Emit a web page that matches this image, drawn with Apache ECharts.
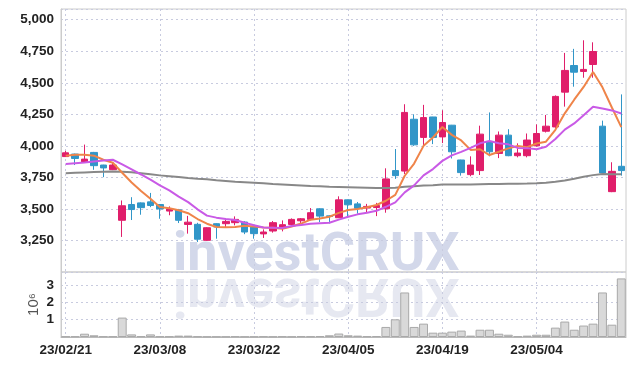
<!DOCTYPE html>
<html><head><meta charset="utf-8">
<script src="https://cdn.jsdelivr.net/npm/echarts@6/dist/echarts.min.js"></script>
<style>html,body{margin:0;padding:0;background:#fff}#c{width:634px;height:366px}</style>
</head><body><div id="c"></div><script>
const dates = ['23/02/21','23/02/22','23/02/23','23/02/24','23/02/27','23/02/28','23/03/02','23/03/03','23/03/06','23/03/07',
'23/03/08','23/03/09','23/03/10','23/03/13','23/03/14','23/03/15','23/03/16','23/03/17','23/03/20','23/03/21',
'23/03/22','23/03/23','23/03/24','23/03/27','23/03/28','23/03/29','23/03/30','23/03/31','23/04/03','23/04/04',
'23/04/05','23/04/06','23/04/07','23/04/10','23/04/11','23/04/12','23/04/13','23/04/14','23/04/17','23/04/18',
'23/04/19','23/04/20','23/04/21','23/04/24','23/04/25','23/04/26','23/04/27','23/04/28','23/05/02','23/05/03',
'23/05/04','23/05/08','23/05/09','23/05/10','23/05/11','23/05/12','23/05/15','23/05/16','23/05/17','23/05/18'];
// [open, close, low, high]
const candles = [
[3915,3945,3912,3960],[3935,3900,3848,3938],[3873,3895,3870,4010],[3948,3843,3810,3952],[3848,3825,3752,3850],
[3811,3848,3808,3865],[3410,3525,3278,3567],[3535,3495,3412,3593],[3548,3510,3454,3552],[3556,3527,3514,3627],
[3535,3500,3422,3538],[3483,3499,3450,3520],[3493,3410,3388,3500],[3377,3395,3304,3445],[3378,3260,3238,3390],
[3251,3351,3248,3355],[3383,3357,3264,3386],[3383,3401,3357,3428],[3391,3417,3370,3441],[3396,3317,3300,3402],
[3356,3304,3264,3360],[3302,3317,3270,3338],[3325,3391,3312,3404],[3357,3375,3322,3409],[3377,3417,3370,3425],
[3406,3422,3383,3428],[3417,3470,3409,3507],[3501,3443,3396,3505],[3445,3440,3385,3450],[3430,3572,3428,3600],
[3572,3533,3428,3575],[3540,3505,3462,3555],[3507,3520,3475,3540],[3511,3527,3443,3548],[3501,3738,3470,3822],
[3804,3764,3738,3975],[3800,4265,3777,4330],[4211,4008,4000,4250],[4067,4224,4005,4325],[4229,4067,4014,4230],
[4071,4185,4022,4282],[4164,3953,3900,4166],[3888,3788,3764,3890],[3772,3848,3759,3917],[3804,4093,3769,4160],
[4035,3953,3917,4265],[3940,4085,3903,4114],[4085,3922,3918,4132],[3922,3943,3909,4020],[3922,4046,3909,4098],
[4000,4098,3995,4170],[4116,4156,4106,4245],[4150,4392,4140,4400],[4426,4598,4311,4737],[4637,4584,4469,4769],
[4590,4606,4540,4837],[4645,4748,4540,4821],[4156,3785,3780,4200],[3637,3798,3633,3870],[3838,3804,3764,4408]];
const ma5 = [3922,3930,3930,3922,3890,3866,3787,3710,3642,3581,3515,3506,3490,3466,3420,3383,3357,3354,3357,3366,
3360,3352,3350,3343,3361,3384,3415,3425,3438,3469,3492,3499,3514,3531,3565,3611,3763,3860,4000,4066,
4150,4087,4043,3968,3973,3927,3953,3980,3999,3990,4019,4033,4127,4258,4366,4467,4586,4464,4304,4148];
const ma10 = [3856,3862,3868,3876,3883,3890,3853,3813,3773,3732,3687,3647,3598,3554,3497,3447,3431,3421,3412,3391,
3371,3353,3351,3349,3365,3372,3383,3387,3390,3415,3438,3457,3470,3485,3517,3552,3631,3687,3766,3816,
3881,3925,3952,3984,4020,4039,4020,4012,3984,3982,3973,3993,4054,4129,4178,4243,4310,4296,4281,4257];
const maLong = [3783,3786,3789,3792,3795,3797,3795,3790,3782,3774,3766,3760,3753,3746,3740,3735,3728,3722,3716,3712,
3708,3703,3698,3694,3690,3686,3682,3679,3676,3674,3672,3670,3668,3666,3665,3668,3675,3680,3685,3688,
3693,3694,3693,3694,3696,3697,3698,3699,3700,3701,3703,3708,3716,3726,3740,3755,3768,3776,3775,3774];
const volumes = [30000,30000,190000,100000,30000,30000,1120000,150000,40000,150000,
30000,30000,80000,80000,30000,20000,20000,20000,30000,20000,
20000,30000,20000,30000,20000,40000,30000,50000,100000,200000,
100000,80000,40000,50000,580000,1020000,2570000,580000,770000,250000,
250000,310000,370000,80000,420000,420000,190000,130000,40000,80000,
130000,130000,540000,890000,420000,660000,770000,2570000,710000,3380000];
const priceMin = 3000, priceMax = 5085, priceStep = 250;
const volMax = 3750000, volStep = 1000000;
const volUnitLabel = '10\u2076';
const watermark = 'investCRUX';

const labelFont = {fontFamily:"'Liberation Sans',Arial,sans-serif", fontWeight:'bold', fontSize:13.5, color:'#222'};
const gridLine = {show:true, lineStyle:{color:'#c8cbdf', width:1, type:[2,3]}};
const chart = echarts.init(document.getElementById('c'), null, {renderer:'canvas'});
chart.setOption({
  animation:false,
  backgroundColor:'#fff',
  graphic:[
    {type:'text', x:173, y:256, z:0, silent:true,
     style:{text:watermark, font:'bold 54px Roboto', fill:'#d3d8ea', verticalAlign:'middle'}},
    {type:'text', x:173, y:292, scaleY:-1, z:0, silent:true,
     style:{text:watermark, font:'bold 54px Roboto', fill:'#e6e8f1', verticalAlign:'middle'}}
  ],
  grid:[
    {left:61, right:8, top:9, height:263, show:true, borderColor:'#ccc', borderWidth:1},
    {left:61, right:8, top:272, height:65, show:true, borderColor:'#ccc', borderWidth:1}
  ],
  xAxis:[
    {type:'category', gridIndex:0, data:dates, boundaryGap:true,
     axisLine:{show:false}, axisTick:{show:false}, axisLabel:{show:false},
     splitLine:Object.assign({interval:9, alignWithLabel:true}, gridLine)},
    {type:'category', gridIndex:1, data:dates, boundaryGap:true,
     axisLine:{show:true, lineStyle:{color:'#bbb'}}, axisTick:{show:false},
     axisLabel:Object.assign({interval:9, margin:6}, labelFont),
     splitLine:Object.assign({interval:9, alignWithLabel:true}, gridLine)}
  ],
  yAxis:[
    {type:'value', gridIndex:0, min:priceMin, max:priceMax, interval:priceStep,
     axisLine:{show:true, lineStyle:{color:'#ccc'}}, axisTick:{show:false},
     axisLabel:Object.assign({showMinLabel:false, showMaxLabel:false, margin:7, padding:[5,0,0,0],
       formatter:v=>v.toLocaleString('en-US')}, labelFont),
     splitLine:gridLine},
    {type:'value', gridIndex:1, min:0, max:volMax, interval:volStep,
     name:volUnitLabel, nameLocation:'middle', nameRotate:90, nameGap:20, nameMoveOverlap:false,
     nameTextStyle:{fontFamily:"'Liberation Sans','DejaVu Sans',sans-serif", fontSize:15, color:'#555'},
     axisLine:{show:true, lineStyle:{color:'#ccc'}}, axisTick:{show:false},
     axisLabel:Object.assign({showMinLabel:false, showMaxLabel:false, margin:7, padding:[5,0,0,0],
       formatter:v=>String(Math.round(v/1e6))}, labelFont),
     splitLine:gridLine}
  ],
  series:[
    {type:'bar', xAxisIndex:1, yAxisIndex:1, data:volumes, barCategoryGap:'5%',
     itemStyle:{color:'#d9d9d9', borderColor:'#a9a9a9', borderWidth:1}},
    {type:'candlestick', xAxisIndex:0, yAxisIndex:0, data:candles, barWidth:7,
     itemStyle:{color:'#e01e6a', color0:'#3196c8', borderColor:'#e01e6a', borderColor0:'#3196c8', borderWidth:1}},
    {type:'line', xAxisIndex:0, yAxisIndex:0, data:maLong, symbol:'none', lineStyle:{color:'#888', width:2}},
    {type:'line', xAxisIndex:0, yAxisIndex:0, data:ma5, symbol:'none', lineStyle:{color:'#ef8449', width:2}},
    {type:'line', xAxisIndex:0, yAxisIndex:0, data:ma10, symbol:'none', lineStyle:{color:'#c95ae6', width:2}}
  ]
});
</script></body></html>
